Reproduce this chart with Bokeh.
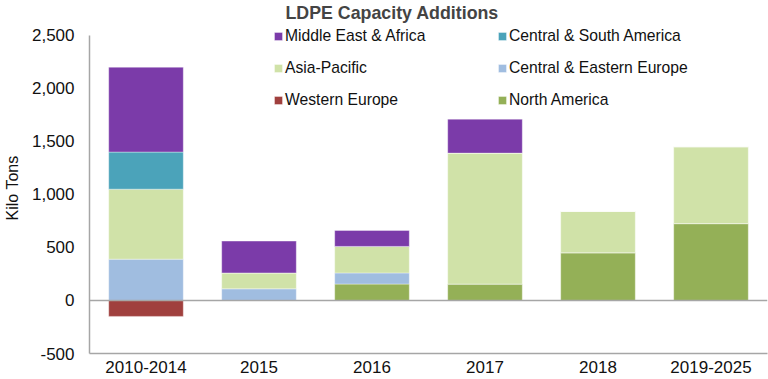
from bokeh.plotting import figure
from bokeh.models import ColumnDataSource, Legend, LegendItem, Span, NumeralTickFormatter, FixedTicker
from bokeh.embed import file_html
from bokeh.resources import INLINE

categories = ["2010-2014", "2015", "2016", "2017", "2018", "2019-2025"]
north_america = [0, 0, 155, 155, 450, 725]
central_eastern_europe = [390, 110, 105, 0, 0, 0]
asia_pacific = [660, 150, 250, 1235, 390, 725]
central_south_america = [350, 0, 0, 0, 0, 0]
middle_east_africa = [800, 300, 150, 320, 0, 0]
western_europe = [-150, 0, 0, 0, 0, 0]
y_ticks = [-500, 0, 500, 1000, 1500, 2000, 2500]

series = ["North America", "Central & Eastern Europe", "Asia-Pacific",
          "Central & South America", "Middle East & Africa"]
colors = {"North America": "#94b057", "Central & Eastern Europe": "#a0bde0",
          "Asia-Pacific": "#d0e2a8", "Central & South America": "#4ba3ba",
          "Middle East & Africa": "#7b3ba9", "Western Europe": "#a0403e"}

data = {"cat": categories,
        "North America": north_america,
        "Central & Eastern Europe": central_eastern_europe,
        "Asia-Pacific": asia_pacific,
        "Central & South America": central_south_america,
        "Middle East & Africa": middle_east_africa,
        "Western Europe": western_europe}
src = ColumnDataSource(data)

FONT = "Liberation Sans"
AXIS_GRAY = "#a6a6a6"
p = figure(x_range=categories, y_range=(-500, 2622), width=768, height=379,
           output_backend="svg", toolbar_location=None,
           min_border_left=89, min_border_right=1, min_border_top=20, min_border_bottom=26)
p.x_range.range_padding = 0

renderers = {}
r = p.vbar_stack(series, x="cat", width=0.66, source=src,
                 fill_color=[colors[s] for s in series],
                 line_color="white", line_width=0.6, line_alpha=0.6)
for s, rr in zip(series, r):
    renderers[s] = rr
renderers["Western Europe"] = p.vbar(x="cat", top="Western Europe", bottom=0, width=0.66,
                                     source=src, fill_color=colors["Western Europe"],
                                     line_color="white", line_width=0.6, line_alpha=0.6)

p.add_layout(Span(location=0, dimension="width", line_color=AXIS_GRAY, line_width=1.5))

p.title.text = "LDPE Capacity Additions"
p.title.text_font = FONT
p.title.text_font_size = "17.8px"
p.title.text_font_style = "bold"
p.title.align = "left"
p.title.offset = 196
p.title.standoff = 0

p.xgrid.visible = False
p.ygrid.visible = False
p.outline_line_color = None

for ax in (p.xaxis[0], p.yaxis[0]):
    ax.axis_line_color = AXIS_GRAY
    ax.axis_line_width = 1.5
    ax.major_label_text_font = FONT
    ax.major_label_text_font_size = "17px"
    ax.major_label_text_color = "#111111"
    ax.minor_tick_line_color = None
    ax.major_tick_line_color = None
    ax.major_tick_out = 0
    ax.major_tick_in = 0

p.xaxis.major_label_standoff = 7

p.yaxis.ticker = FixedTicker(ticks=y_ticks)
p.yaxis.formatter = NumeralTickFormatter(format="0,0")
p.yaxis.bounds = (-500, 2500)
p.yaxis.major_label_standoff = 15
p.yaxis.axis_label = "Kilo Tons"
p.yaxis.axis_label_text_font = FONT
p.yaxis.axis_label_text_font_size = "16px"
p.yaxis.axis_label_text_font_style = "normal"
p.yaxis.axis_label_text_color = "#111111"
p.yaxis.axis_label_standoff = 8

def make_legend(names, loc):
    lg = Legend(items=[LegendItem(label=n, renderers=[renderers[n]]) for n in names],
                location=loc, orientation="vertical",
                glyph_width=10, glyph_height=10, label_standoff=2,
                label_text_font=FONT, label_text_font_size="15.7px", label_text_color="#111111",
                label_height=21, spacing=11, padding=0, margin=0,
                border_line_color=None, background_fill_alpha=0)
    return lg

p.add_layout(make_legend(["Middle East & Africa", "Asia-Pacific", "Western Europe"], (184, 243)))
p.add_layout(make_legend(["Central & South America", "Central & Eastern Europe", "North America"], (408, 243)))

open("out.html", "w").write(file_html(p, INLINE))
